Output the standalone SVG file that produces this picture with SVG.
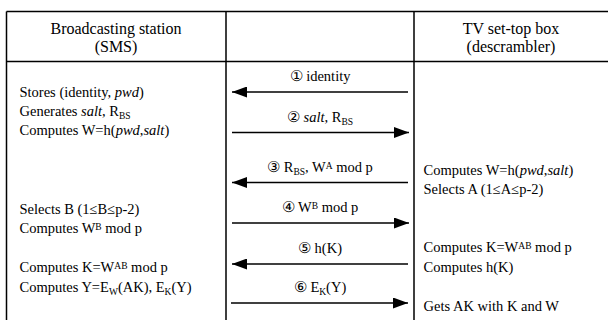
<svg xmlns="http://www.w3.org/2000/svg" width="608" height="320" viewBox="0 0 608 320">
<defs>
<marker id="ah" markerWidth="15" markerHeight="11" refX="15" refY="5.5" orient="auto" markerUnits="userSpaceOnUse">
<path d="M0,0 L15,5.5 L0,11 Z" fill="#000"/>
</marker>
<style>
text{font-family:"Liberation Serif","Times New Roman","DejaVu Serif",serif;font-size:14.5px;fill:#000}
.h{font-size:16px}
.c{text-anchor:middle}
.i{font-style:italic}
.s{font-size:9.5px}
.ln{stroke:#000;stroke-width:1.5;fill:none}
.ar{stroke:#000;stroke-width:1.4;fill:none;marker-end:url(#ah)}
</style>
</defs>
<rect width="608" height="320" fill="#fff"/>
<g id="table">
<path class="ln" d="M6.5,11.5 H608 M6.5,61.5 H608 M6.5,11.5 V320 M226,11.5 V320 M414,11.5 V320"/>
</g>
<g id="sms">
<text class="c h" x="116" y="34">Broadcasting station</text>
<text class="c h" x="116" y="52">(SMS)</text>
<text x="19.5" y="97">Stores (identity, <tspan class="i">pwd</tspan>)</text>
<text x="19.5" y="116">Generates <tspan class="i">salt</tspan>, R<tspan class="s" dy="3">BS</tspan></text>
<text x="19.5" y="135">Computes W=h(<tspan class="i">pwd</tspan>,<tspan class="i">salt</tspan>)</text>
<text x="19.5" y="214">Selects B (1≤B≤p-2)</text>
<text x="19.5" y="233">Computes W<tspan class="s" dy="-3">B</tspan><tspan dy="3"> mod p</tspan></text>
<text x="19.5" y="272">Computes K=W<tspan class="s" dy="-3">AB</tspan><tspan dy="3"> mod p</tspan></text>
<text x="19.5" y="292">Computes Y=E<tspan class="s" dy="3">W</tspan><tspan dy="-3">(AK), E</tspan><tspan class="s" dy="3">K</tspan><tspan dy="-3">(Y)</tspan></text>
</g>
<g id="stb">
<text class="c h" x="511" y="34">TV set-top box</text>
<text class="c h" x="511" y="52">(descrambler)</text>
<text x="423.5" y="175">Computes W=h(<tspan class="i">pwd</tspan>,<tspan class="i">salt</tspan>)</text>
<text x="423.5" y="194">Selects A (1≤A≤p-2)</text>
<text x="423.5" y="252">Computes K=W<tspan class="s" dy="-3">AB</tspan><tspan dy="3"> mod p</tspan></text>
<text x="423.5" y="272">Computes h(K)</text>
<text x="423.5" y="311">Gets AK with K and W</text>
</g>
<g id="connectors">
<line class="ar" x1="408" y1="92" x2="232" y2="92"/>
<line class="ar" x1="232" y1="132.5" x2="409" y2="132.5"/>
<line class="ar" x1="408" y1="182.5" x2="232" y2="182.5"/>
<line class="ar" x1="232" y1="223" x2="409" y2="223"/>
<line class="ar" x1="408" y1="264" x2="232" y2="264"/>
<line class="ar" x1="231" y1="303" x2="408" y2="303"/>
<text class="c" x="320" y="81">① identity</text>
<text class="c" x="320" y="122">② <tspan class="i">salt</tspan>, R<tspan class="s" dy="3">BS</tspan></text>
<text class="c" x="320" y="172">③ R<tspan class="s" dy="3">BS</tspan><tspan dy="-3">, W</tspan><tspan class="s" dy="-3">A</tspan><tspan dy="3"> mod p</tspan></text>
<text class="c" x="320" y="212">④ W<tspan class="s" dy="-3">B</tspan><tspan dy="3"> mod p</tspan></text>
<text class="c" x="320" y="253">⑤ h(K)</text>
<text class="c" x="320" y="292">⑥ E<tspan class="s" dy="3">K</tspan><tspan dy="-3">(Y)</tspan></text>
</g>
</svg>
